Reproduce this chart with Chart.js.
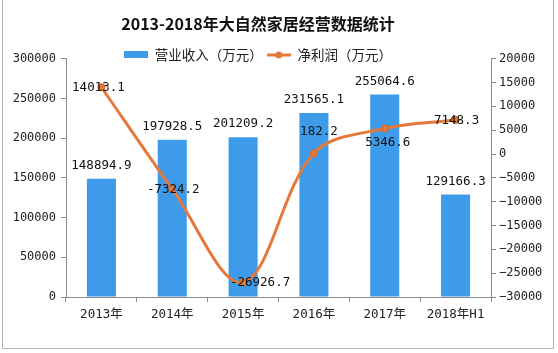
<!DOCTYPE html>
<html>
<head>
<meta charset="utf-8">
<script src="https://cdn.jsdelivr.net/npm/chart.js@4.4.1/dist/chart.umd.min.js"></script>
<style>
  html, body { margin: 0; padding: 0; background: #fff; }
  #wrap { width: 558px; height: 353px; position: relative; }
</style>
</head>
<body>
<div id="wrap"><canvas id="bizChart" width="558" height="353"></canvas></div>
<script>
const years = ['2013年', '2014年', '2015年', '2016年', '2017年', '2018年H1'];
const revenue = [148894.9, 197928.5, 201209.2, 231565.1, 255064.6, 129166.3];
const profit = [14013.1, -7324.2, -26926.7, 182.2, 5346.6, 7148.3];
const revenueLabel = '营业收入（万元）';
const profitLabel = '净利润（万元）';

const BLUE = '#3d9be9';
const ORANGE = '#e4793b';
const AXIS = '#8c8c8c';
const numFont = "'DejaVu Sans Mono', 'Noto Sans CJK SC', monospace";
const cjkFont = "'Noto Sans CJK SC', 'DejaVu Sans', sans-serif";

// little legend swatches
function swatchBar() {
    const c = document.createElement('canvas');
    c.width = 24; c.height = 7;
    const g = c.getContext('2d');
    g.fillStyle = BLUE;
    g.fillRect(0, 0, 24, 7);
    return c;
}
function swatchLine() {
    const c = document.createElement('canvas');
    c.width = 24; c.height = 8;
    const g = c.getContext('2d');
    g.strokeStyle = ORANGE;
    g.lineWidth = 3;
    g.beginPath(); g.moveTo(0, 4); g.lineTo(24, 4); g.stroke();
    g.fillStyle = ORANGE;
    g.beginPath(); g.arc(12, 4, 3.5, 0, Math.PI * 2); g.fill();
    return c;
}

// label offsets for the profit line (x, y in px from the point)
const lineLabelShift = [[-3, 1], [1, 1], [17, 0], [5, -21], [3, 14], [1, 1]];

const labelPlugin = {
    id: 'valueLabels',
    afterDatasetsDraw(chart) {
        const ctx = chart.ctx;
        ctx.save();
        ctx.font = '12.5px ' + numFont;
        ctx.fillStyle = '#111';
        ctx.textAlign = 'center';
        ctx.textBaseline = 'middle';
        const lineMeta = chart.getDatasetMeta(0);
        const barMeta = chart.getDatasetMeta(1);
        barMeta.data.forEach((el, i) => {
            ctx.fillText(revenue[i].toFixed(1), el.x, el.y - 13);
        });
        lineMeta.data.forEach((el, i) => {
            const s = lineLabelShift[i];
            ctx.fillText(profit[i].toFixed(1), el.x + s[0], el.y + s[1]);
        });
        ctx.restore();
    }
};

const framePlugin = {
    id: 'frame',
    afterLayout(chart) {
        // title and legend sit a bit left of centre, legend low down near the plot
        chart.titleBlock.left -= 21;
        chart.titleBlock.right -= 21;
        chart.titleBlock.top += 2;
        chart.titleBlock.bottom += 2;
        chart.legend.left -= 21;
        chart.legend.right -= 21;
        chart.legend.top += 13;
        chart.legend.bottom += 13;
    },
    afterDraw(chart) {
        const ctx = chart.ctx;
        ctx.save();
        ctx.strokeStyle = '#b4b4b4';
        ctx.lineWidth = 1;
        ctx.strokeRect(2.5, -1, 551, 349.5);
        ctx.restore();
    }
};

const ctx = document.getElementById('bizChart').getContext('2d');

const chart = new Chart(ctx, {
    data: {
        labels: years,
        datasets: [{
            type: 'line',
            label: profitLabel,
            data: profit,
            yAxisID: 'y1',
            borderColor: ORANGE,
            backgroundColor: ORANGE,
            borderWidth: 3,
            tension: 0.35,
            pointRadius: 3.5,
            pointBackgroundColor: ORANGE,
            pointBorderColor: '#d0652a',
            pointBorderWidth: 1,
            fill: false,
        }, {
            type: 'bar',
            label: revenueLabel,
            data: revenue,
            yAxisID: 'y',
            backgroundColor: BLUE,
            borderWidth: 0,
            barPercentage: 0.41,
            categoryPercentage: 1,
        }]
    },
    options: {
        responsive: false,
        animation: false,
        layout: { padding: 0 },
        plugins: {
            tooltip: { enabled: false },
            title: {
                display: true,
                text: '2013-2018年大自然家居经营数据统计',
                color: '#111',
                font: { family: cjkFont, size: 16, weight: 'bold' },
                padding: { top: 12, bottom: 0 },
            },
            legend: {
                display: true,
                labels: {
                    usePointStyle: true,
                    pointStyleWidth: 24,
                    boxHeight: 8,
                    padding: 4,
                    color: '#222',
                    font: { family: cjkFont, size: 13.5 },
                    generateLabels() {
                        return [
                            { text: revenueLabel, pointStyle: swatchBar(), datasetIndex: 1, lineWidth: 0, fontColor: '#222' },
                            { text: profitLabel, pointStyle: swatchLine(), datasetIndex: 0, lineWidth: 0, fontColor: '#222' },
                        ];
                    }
                }
            }
        },
        scales: {
            x: {
                offset: true,
                grid: { display: true, drawOnChartArea: false, drawTicks: true, tickLength: 5, color: AXIS, offset: true },
                border: { color: AXIS },
                ticks: { color: '#222', padding: 5, font: { family: numFont, size: 12.5 }, maxRotation: 0 },
                afterFit(scale) { scale.height = 56; }
            },
            y: {
                position: 'left',
                min: 0,
                max: 300000,
                grid: { drawOnChartArea: false, tickLength: 5, color: AXIS },
                border: { color: AXIS },
                ticks: { stepSize: 50000, color: '#222', padding: 5, font: { family: numFont, size: 12 }, callback: v => String(v) },
                afterFit(scale) { scale.width = 66; }
            },
            y1: {
                position: 'right',
                min: -30000,
                max: 20000,
                grid: { drawOnChartArea: false, tickLength: 5, color: AXIS },
                border: { color: AXIS },
                ticks: { stepSize: 5000, color: '#222', padding: 3, font: { family: numFont, size: 12 }, callback: v => String(v).replace('-', '\u2212') },
                afterFit(scale) { scale.width = 67; }
            }
        }
    },
    plugins: [labelPlugin, framePlugin]
});
</script>
</body>
</html>
